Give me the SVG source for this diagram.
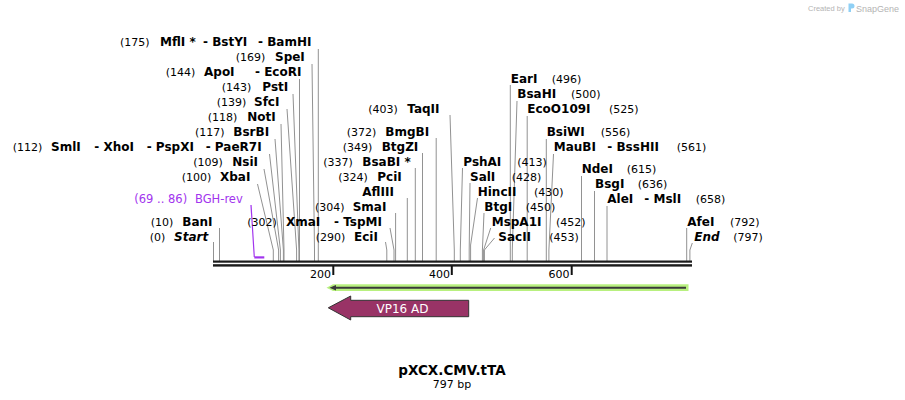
<svg xmlns="http://www.w3.org/2000/svg" width="905" height="400" viewBox="0 0 905 400">
<style>
text{font-family:"DejaVu Sans",Verdana,sans-serif;font-size:11px;fill:#000}
.b{font-weight:bold;font-size:12px}
.i{font-weight:bold;font-style:italic;font-size:12px}
.p{fill:#a235ee;font-size:11.5px}
.ln{fill:none;stroke:#929292;stroke-width:1}
.pl{fill:none;stroke:#a235ee;stroke-width:1.2}
.tk{stroke:#111;stroke-width:2}
text.wm{font-family:"Liberation Sans",Arial,sans-serif;fill:#b4b4b4}
</style>
<rect width="905" height="400" fill="#fff"/>
<g id="watermark">
<text class="wm" x="808" y="11" style="font-size:7.5px">Created by</text>
<path d="M848.5 3.5 h3.5 a2.5 2.5 0 0 1 0 5 h-1 v3.5 h-2.5 z" fill="#8fd0f5"/>
<text class="wm" x="856" y="11.5" style="font-size:9px">SnapGene</text>
</g>
<g id="connectors">
<path class="ln" d="M318.3 49 V261"/>
<path class="ln" d="M312 64 L314.5 250 V261"/>
<path class="ln" d="M299.5 79 V261"/>
<path class="ln" d="M293 94 L298.9 250 V261"/>
<path class="ln" d="M287 109 L296.6 250 V261"/>
<path class="ln" d="M281 124 L284 250 V261"/>
<path class="ln" d="M275 139 L283.4 250 V261"/>
<path class="ln" d="M269.5 154 L280.4 250 V261"/>
<path class="ln" d="M264 169 L278.6 250 V261"/>
<path class="ln" d="M257.5 184 L273.3 250 V261"/>
<path class="pl" d="M251 205 L254.3 257"/>
<path class="ln" d="M219.5 228 V261"/>
<path class="ln" d="M213.5 242 V261"/>
<path class="ln" d="M390 228 L394 250 V261"/>
<path class="ln" d="M395.6 213 V261"/>
<path class="ln" d="M385.5 242 L386.8 250 V261"/>
<path class="ln" d="M407.3 198 V261"/>
<path class="ln" d="M415.3 168 V261"/>
<path class="ln" d="M422.5 153 V261"/>
<path class="ln" d="M436.2 138 V261"/>
<path class="ln" d="M450 115 L454.3 250 V261"/>
<path class="ln" d="M462.5 168 L460.3 250 V261"/>
<path class="ln" d="M470 183 L469.2 250 V261"/>
<path class="ln" d="M477.5 198 L470.6 245 V261"/>
<path class="ln" d="M484 213 L482.4 250 V261"/>
<path class="ln" d="M490.7 228 L483.6 250 V261"/>
<path class="ln" d="M494.5 238 L484.4 250 V261"/>
<path class="ln" d="M510.3 85 V261"/>
<path class="ln" d="M517 101 L512.3 250 V261"/>
<path class="ln" d="M527.2 116 V261"/>
<path class="ln" d="M546.3 139 V261"/>
<path class="ln" d="M553.5 154 L548.9 250 V261"/>
<path class="ln" d="M581.5 176 V261"/>
<path class="ln" d="M594.5 191 V261"/>
<path class="ln" d="M607 206 V261"/>
<path class="ln" d="M686.7 228 V261"/>
<path class="ln" d="M692.3 243 L689.9 250 V261"/>
</g>
<g id="backbone">
<rect x="213" y="260.5" width="479" height="2.2" fill="#1a1a1a"/>
<rect x="213" y="264.2" width="479" height="2.4" fill="#1a1a1a"/>
<line class="tk" x1="333.3" y1="266" x2="333.3" y2="275"/>
<line class="tk" x1="451.8" y1="266" x2="451.8" y2="275"/>
<line class="tk" x1="571.7" y1="266" x2="571.7" y2="275"/>
<text x="310" y="278">200</text>
<text x="429" y="278">400</text>
<text x="548.5" y="278">600</text>
</g>
<g id="primer-bgh">
<rect x="254.3" y="256.3" width="10" height="2.2" fill="#a235ee"/>
<text class="p"><tspan x="134.3" y="203">(69 .. 86)</tspan><tspan x="195" y="203">BGH-rev</tspan></text>
</g>
<g id="orf">
<path d="M326.5 287.7 L333 284.3 H688.5 V291.1 H333 Z" fill="#b8f07f"/>
<line x1="335" y1="287.7" x2="686" y2="287.7" stroke="#3a3a3a" stroke-width="2"/>
<path d="M329.5 287.7 L336 284.9 V290.5 Z" fill="#3a3a3a"/>
</g>
<g id="vp16ad">
<path d="M328.3 307.8 L350.7 296 V300.3 H468.7 V316.7 H350.7 V320 Z" fill="#993366" stroke="#333" stroke-width="1"/>
<text x="402.5" y="312.5" text-anchor="middle" style="font-size:12px;fill:#fff">VP16 AD</text>
</g>
<g id="site-175"><text><tspan x="120" y="46">(175)</tspan><tspan class="b" x="160" y="46">MflI *</tspan><tspan class="b" x="203" y="46">- BstYI</tspan><tspan class="b" x="258" y="46">- BamHI</tspan></text></g>
<g id="site-169"><text><tspan x="235.7" y="61">(169)</tspan><tspan class="b" x="275" y="61">SpeI</tspan></text></g>
<g id="site-144"><text><tspan x="165.7" y="76">(144)</tspan><tspan class="b" x="204" y="76">ApoI</tspan><tspan class="b" x="255" y="76">- EcoRI</tspan></text></g>
<g id="site-143"><text><tspan x="221.7" y="91">(143)</tspan><tspan class="b" x="262.3" y="91">PstI</tspan></text></g>
<g id="site-139"><text><tspan x="216.7" y="106">(139)</tspan><tspan class="b" x="254" y="106">SfcI</tspan></text></g>
<g id="site-118"><text><tspan x="207.7" y="121">(118)</tspan><tspan class="b" x="247.3" y="121">NotI</tspan></text></g>
<g id="site-117"><text><tspan x="195" y="136">(117)</tspan><tspan class="b" x="233.3" y="136">BsrBI</tspan></text></g>
<g id="site-112"><text><tspan x="12.7" y="151">(112)</tspan><tspan class="b" x="51" y="151">SmlI</tspan><tspan class="b" x="94.3" y="151">- XhoI</tspan><tspan class="b" x="146.7" y="151">- PspXI</tspan><tspan class="b" x="205.7" y="151">- PaeR7I</tspan></text></g>
<g id="site-109"><text><tspan x="193.3" y="166">(109)</tspan><tspan class="b" x="232.3" y="166">NsiI</tspan></text></g>
<g id="site-100"><text><tspan x="181.7" y="181">(100)</tspan><tspan class="b" x="220" y="181">XbaI</tspan></text></g>
<g id="site-10"><text><tspan x="150.7" y="226">(10)</tspan><tspan class="b" x="182.3" y="226">BanI</tspan></text></g>
<g id="site-0"><text><tspan x="149.7" y="241">(0)</tspan><tspan class="i" x="174" y="241">Start</tspan></text></g>
<g id="site-302"><text><tspan x="247.3" y="226">(302)</tspan><tspan class="b" x="286" y="226">XmaI</tspan><tspan class="b" x="334" y="226">- TspMI</tspan></text></g>
<g id="site-304"><text><tspan x="315" y="211">(304)</tspan><tspan class="b" x="352.7" y="211">SmaI</tspan></text></g>
<g id="site-290"><text><tspan x="315.7" y="241">(290)</tspan><tspan class="b" x="354" y="241">EciI</tspan></text></g>
<g id="site-aflIII"><text class="b" x="362.3" y="196">AflIII</text></g>
<g id="site-324"><text><tspan x="338.3" y="181">(324)</tspan><tspan class="b" x="377.3" y="181">PciI</tspan></text></g>
<g id="site-337"><text><tspan x="323.3" y="166">(337)</tspan><tspan class="b" x="362.3" y="166">BsaBI *</tspan></text></g>
<g id="site-349"><text><tspan x="342.7" y="151">(349)</tspan><tspan class="b" x="381.7" y="151">BtgZI</tspan></text></g>
<g id="site-372"><text><tspan x="346.7" y="136">(372)</tspan><tspan class="b" x="385.3" y="136">BmgBI</tspan></text></g>
<g id="site-403"><text><tspan x="368.3" y="113">(403)</tspan><tspan class="b" x="407.3" y="113">TaqII</tspan></text></g>
<g id="site-413"><text><tspan class="b" x="463.3" y="166">PshAI</tspan><tspan x="517.3" y="166">(413)</tspan></text></g>
<g id="site-428"><text><tspan class="b" x="470" y="181">SalI</tspan><tspan x="511.7" y="181">(428)</tspan></text></g>
<g id="site-430"><text><tspan class="b" x="477.7" y="196">HincII</tspan><tspan x="534" y="196">(430)</tspan></text></g>
<g id="site-450"><text><tspan class="b" x="484.3" y="211">BtgI</tspan><tspan x="525.7" y="211">(450)</tspan></text></g>
<g id="site-452"><text><tspan class="b" x="491.7" y="226">MspA1I</tspan><tspan x="556" y="226">(452)</tspan></text></g>
<g id="site-453"><text><tspan class="b" x="498.3" y="241">SacII</tspan><tspan x="549.3" y="241">(453)</tspan></text></g>
<g id="site-496"><text><tspan class="b" x="510.7" y="83">EarI</tspan><tspan x="551.7" y="83">(496)</tspan></text></g>
<g id="site-500"><text><tspan class="b" x="517.3" y="98">BsaHI</tspan><tspan x="571" y="98">(500)</tspan></text></g>
<g id="site-525"><text><tspan class="b" x="527.3" y="113">EcoO109I</tspan><tspan x="609" y="113">(525)</tspan></text></g>
<g id="site-556"><text><tspan class="b" x="546.7" y="136">BsiWI</tspan><tspan x="600.7" y="136">(556)</tspan></text></g>
<g id="site-561"><text><tspan class="b" x="553.7" y="151">MauBI</tspan><tspan class="b" x="607.3" y="151">- BssHII</tspan><tspan x="676.7" y="151">(561)</tspan></text></g>
<g id="site-615"><text><tspan class="b" x="581.7" y="173">NdeI</tspan><tspan x="626.7" y="173">(615)</tspan></text></g>
<g id="site-636"><text><tspan class="b" x="595" y="188">BsgI</tspan><tspan x="637.7" y="188">(636)</tspan></text></g>
<g id="site-658"><text><tspan class="b" x="607.3" y="203">AleI</tspan><tspan class="b" x="644.3" y="203">- MslI</tspan><tspan x="695.7" y="203">(658)</tspan></text></g>
<g id="site-792"><text><tspan class="b" x="687.3" y="226">AfeI</tspan><tspan x="730" y="226">(792)</tspan></text></g>
<g id="site-797"><text><tspan class="i" x="694.3" y="241">End</tspan><tspan x="733.3" y="241">(797)</tspan></text></g>
<g id="title">
<text class="b" x="452" y="375" text-anchor="middle" style="font-size:13.5px">pXCX.CMV.tTA</text>
<text x="452" y="387.5" text-anchor="middle">797 bp</text>
</g>
</svg>
